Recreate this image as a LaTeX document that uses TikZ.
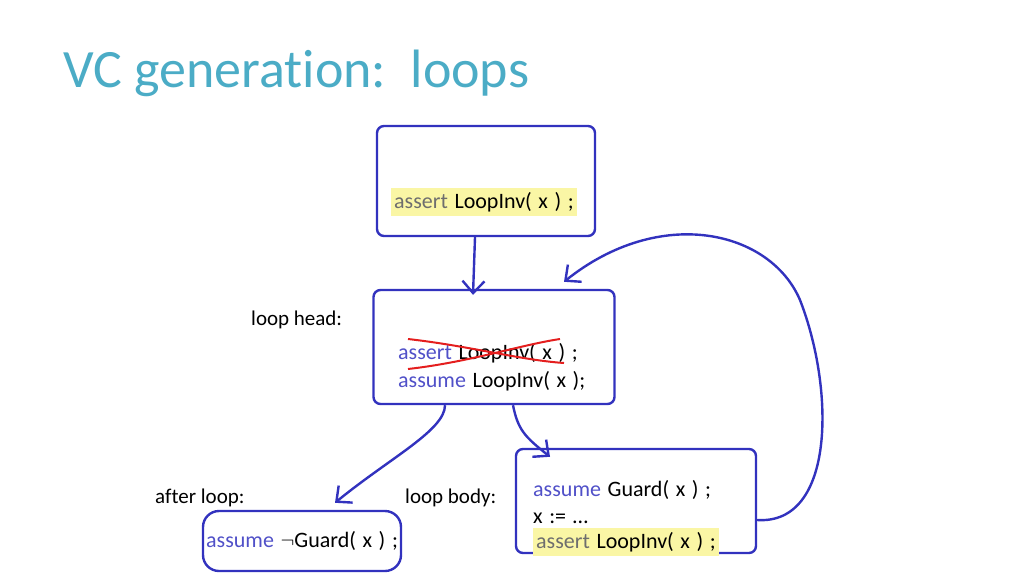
\documentclass[tikz,border=0pt]{standalone}
\usepackage{fontspec}
\setmainfont{Carlito}[RawFeature=-liga]
\usetikzlibrary{arrows.meta}
\definecolor{ink}{RGB}{50,50,190}
\definecolor{kwblue}{RGB}{80,80,200}
\definecolor{kwgray}{RGB}{110,110,110}
\definecolor{titleblue}{RGB}{75,172,198}
\definecolor{marker}{RGB}{250,246,165}
\definecolor{strikered}{RGB}{228,30,30}
\newcommand{\kwb}[1]{\textcolor{kwblue}{#1}}
\newcommand{\kwg}[1]{\textcolor{kwgray}{#1}}
\newcommand{\widespaces}{\spaceskip=0.3em\relax}

\begin{document}
\begin{tikzpicture}[x=1pt,y=-1pt,
    box/.style={draw=ink, line width=2.4pt, rounded corners=7pt, inner sep=0pt},
    label/.style={anchor=base west, inner sep=0pt, font=\fontsize{21}{25}\selectfont},
    code/.style={anchor=base west, inner sep=0pt, font=\fontsize{22}{26}\selectfont, execute at begin node=\widespaces},
    lit/.style={code, fill=marker, inner xsep=3pt, inner ysep=4pt},
    arr/.style={draw=ink, line width=2.4pt, -{Straight Barb[length=12pt,width=22pt]}},
    strike/.style={draw=strikered, line width=2pt}]
\useasboundingbox (0,0) rectangle (1024,576);
\node[anchor=base west, inner sep=0pt, text=titleblue, font=\fontsize{54}{60}\selectfont] (title) at (63,87) {VC generation:\ \ loops};
% boxes
\node[box, minimum width=218pt, minimum height=110pt] (pre) at (486,181) {};
\node[box, minimum width=241pt, minimum height=114pt] (head) at (494,347) {};
\node[box, minimum width=240pt, minimum height=104pt] (body) at (636,501) {};
\node[box, minimum width=198pt, minimum height=60pt, rounded corners=16pt] (exit) at (302,541) {};
% labels
\node[label] (headlbl) at (251,325) {loop head:};
\node[label] (exitlbl) at (155,503) {after loop:};
\node[label] (bodylbl) at (405,503) {loop body:};
% code lines
\node[lit] (preinv) at (391,208) {\kwg{assert} LoopInv( x ) ;};
\node[code] (headassert) at (398,359) {\kwb{assert} LoopInv( x ) ;};
\node[code] (headassume) at (398,387) {\kwb{assume} LoopInv( x );};
\node[code] (bodyguard) at (533,496) {\kwb{assume} Guard( x ) ;};
\node[code] (bodystep) at (533,523) {x := \dots};
\node[lit] (bodyinv) at (533,548) {\kwg{assert} LoopInv( x ) ;};
\node[code] (exitguard) at (206,547) {\kwb{assume} $\neg$Guard( x ) ;};
% crossed out
\draw[strike] (408,339) .. controls (470,346) and (520,360) .. (564,363);
\draw[strike] (408,369) .. controls (470,362) and (520,345) .. (560,339);
% edges
\draw[arr] ([xshift=-11pt]pre.south) -- ([xshift=-21pt,yshift=-6pt]head.north);
\draw[arr] ([xshift=-49pt]head.south) .. controls +(0,25) and +(55,-45) .. ([xshift=33pt,yshift=7pt]exit.north);
\draw[arr] ([xshift=19pt]head.south) .. controls +(5,25) and +(-25,-20) .. ([xshift=-86pt,yshift=-9pt]body.north);
\draw[arr] ([yshift=-19pt]body.east) .. controls (835,525) and (835,390) .. (800,300)
    .. controls (770,230) and (660,205) .. ([xshift=70pt,yshift=7pt]head.north);
\end{tikzpicture}
\end{document}
